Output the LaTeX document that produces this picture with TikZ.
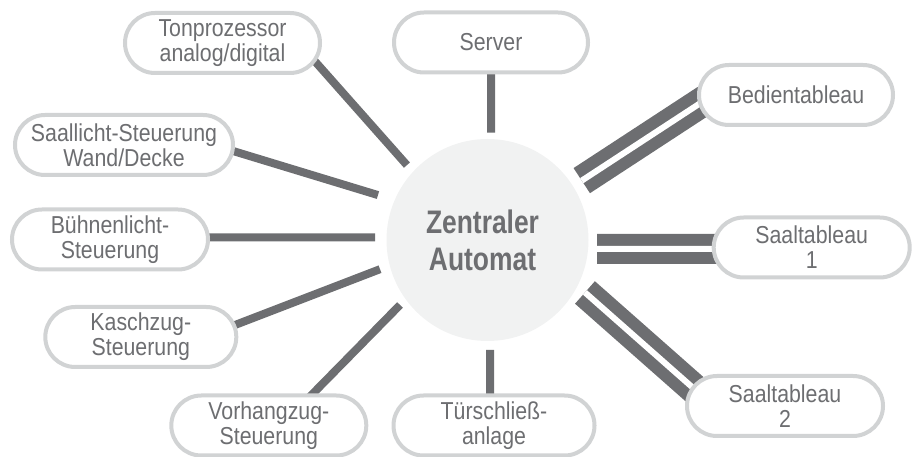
\documentclass[tikz,border=0pt]{standalone}
\usepackage{fontspec}
\setmainfont{Liberation Sans}[FakeStretch=0.87]
\newfontfamily\hubfont{Liberation Sans}[FakeStretch=0.81]
\usetikzlibrary{shapes.misc,backgrounds}
\definecolor{boxgray}{HTML}{D1D3D4}
\definecolor{linegray}{HTML}{6D6E71}
\definecolor{hubfill}{HTML}{F1F2F2}

\begin{document}
\begin{tikzpicture}[x=1pt,y=1pt,
    unit/.style={rounded rectangle, draw=boxgray, line width=4pt, fill=white,
        minimum height=60pt, inner sep=0pt, align=center, text=linegray,
        font=\fontsize{24.5}{25}\selectfont},
    wire/.style={draw=linegray, line width=8pt, shorten >=-6pt},
    bus/.style={draw=linegray, line width=12pt, double=white, double distance=6pt, shorten >=-8pt}]
    \useasboundingbox (0,0) rectangle (917,457);
    % zentraler automat
    \node[circle, fill=hubfill, minimum size=202pt, inner sep=0pt, align=center, text=linegray,
        font=\hubfont\bfseries\fontsize{32.6}{37}\selectfont] (hub) at (487.5,217) {Zentraler\hspace*{10pt}\\Automat\hspace*{10pt}};
    % angeschlossene geraete
    \node[unit, minimum width=195pt] (ton) at (222.5,414) {Tonprozessor\\analog/digital};
    \node[unit, minimum width=194pt] (srv) at (491,414.5) {Server};
    \node[unit, minimum width=194pt] (bed) at (796,362) {Bedientableau};
    \node[unit, minimum width=196pt] (st1) at (811.7,209.5) {Saaltableau\\1};
    \node[unit, minimum width=196pt] (st2) at (785,51) {Saaltableau\\2};
    \node[unit, minimum width=201pt] (tur) at (494,31.5) {Türschließ-\\anlage};
    \node[unit, minimum width=195pt] (vor) at (268.8,31.5) {Vorhangzug-\\Steuerung};
    \node[unit, minimum width=191pt] (kas) at (140.8,120) {Kaschzug-\\Steuerung};
    \node[unit, minimum width=196pt] (bue) at (110,217.5) {Bühnenlicht-\\Steuerung};
    \node[unit, minimum width=218pt] (sal) at (124,312) {Saallicht-Steuerung\\Wand/Decke};
    % leitungen
    \begin{scope}[on background layer]
        \draw[wire] (hub.center) ++(137.1:110) -- ([shift={(94.2,-20.3)}]ton.center);
        \draw[wire] (hub.center) ++(88.1:107.4) -- ([shift={(0,-29.5)}]srv.center);
        \draw[wire] (hub.center) ++(157.7:118.4) -- ([shift={(109,-6)}]sal.center);
        \draw[wire] (hub.center) ++(178.7:112.5) -- ([shift={(99,2)}]bue.center);
        \draw[wire] (hub.center) ++(195.2:111.4) -- ([shift={(94.2,12)}]kas.center);
        \draw[wire] (hub.center) ++(216.6:109) -- ([shift={(42.2,30)}]vor.center);
        \draw[wire] (hub.center) ++(271.3:110) -- ([shift={(-4,30)}]tur.center);
        \draw[bus] (hub.center) ++(32.2:111.4) -- ([shift={(-97,-9)}]bed.center);
        \draw[bus] (hub.center) ++(-4.7:109.9) -- ([shift={(-99.7,-1.5)}]st1.center);
        \draw[bus] (hub.center) ++(-28.3:110.7) -- ([shift={(-93.3,19.3)}]st2.center);
    \end{scope}
\end{tikzpicture}
\end{document}
